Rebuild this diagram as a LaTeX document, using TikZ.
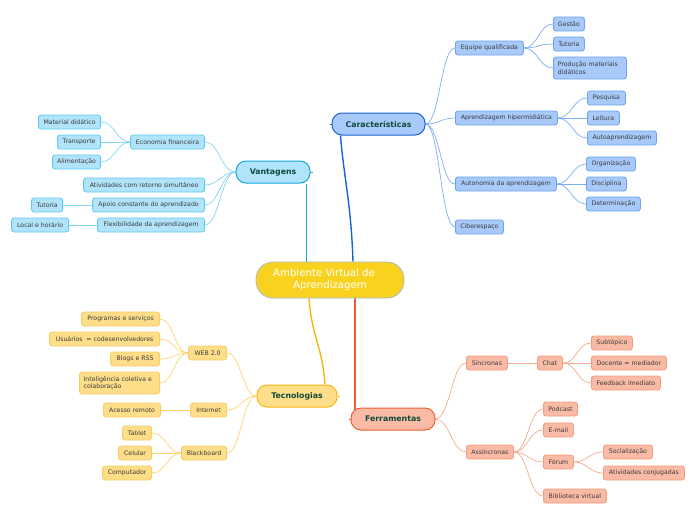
\documentclass[tikz,border=0pt]{standalone}
\usepackage{fontspec}
\setmainfont{DejaVu Sans}
\pgfdeclarelayer{back}
\pgfdeclarelayer{bg}
\pgfsetlayers{back,bg,main}
\definecolor{txt}{HTML}{3A3A3A}
\definecolor{mtxt}{HTML}{0E4A3A}
\definecolor{cbF}{HTML}{A8CAFB}
\definecolor{cbD}{HTML}{6EA4EF}
\definecolor{cbM}{HTML}{1A62D6}
\definecolor{cbL}{HTML}{80AEF2}
\definecolor{vbF}{HTML}{B1E4FB}
\definecolor{vbD}{HTML}{5CCBF2}
\definecolor{vbM}{HTML}{10A6E2}
\definecolor{vbL}{HTML}{86D6F5}
\definecolor{tbF}{HTML}{FFDE8A}
\definecolor{tbD}{HTML}{F8CC66}
\definecolor{tbM}{HTML}{F6B70E}
\definecolor{tbL}{HTML}{FFD46E}
\definecolor{fbF}{HTML}{F9BBA6}
\definecolor{fbD}{HTML}{F59C7E}
\definecolor{fbM}{HTML}{EF5F2F}
\definecolor{fbL}{HTML}{FAAA90}
\definecolor{ctrF}{HTML}{F9D21F}
\definecolor{ctrD}{HTML}{A9B9C6}
\tikzset{
 bx/.style={draw, rounded corners=2.5pt, minimum height=14pt, inner sep=0pt, line width=0.8pt,
   font=\fontsize{6.2}{7.6}\selectfont, text=txt},
 cb/.style={bx, fill=cbF, draw=cbD},
 vb/.style={bx, fill=vbF, draw=vbD},
 tb/.style={bx, fill=tbF, draw=tbD},
 fb/.style={bx, fill=fbF, draw=fbD},
 mainbox/.style={draw, rounded corners=10pt, minimum height=22pt, inner sep=0pt, line width=1pt,
   font=\bfseries\fontsize{7.8}{9}\selectfont, text=mtxt},
 cl/.style={draw=cbL, line width=0.7pt},
 vl/.style={draw=vbL, line width=0.7pt},
 tl/.style={draw=tbL, line width=0.7pt},
 fl/.style={draw=fbL, line width=0.7pt},
}
\newcommand{\rlink}[3]{\draw[#1] (#2.east) .. controls +(14,0) and +(-14,0) .. (#3.west);}
\newcommand{\llink}[3]{\draw[#1] (#2.west) .. controls +(-14,0) and +(14,0) .. (#3.east);}
\begin{document}
\begin{tikzpicture}[x=1pt,y=-1pt]
\begin{pgfonlayer}{back}
\fill[white] (0,0) rectangle (696,520);
\end{pgfonlayer}
\useasboundingbox (0,0) rectangle (696,520);

% central
\node[draw=ctrD, fill=ctrF, rounded corners=17pt, minimum width=148pt, minimum height=36pt, inner sep=0pt,
  line width=0.8pt, text=white, align=center, font=\fontsize{10.2}{12}\selectfont] (ctr) at (330,280)
  {Ambiente Virtual de\hspace*{12pt}\\Aprendizagem};

% main nodes
\node[mainbox, fill=cbF, draw=cbM, minimum width=93pt] (car) at (378.5,124) {Características};
\node[mainbox, fill=vbF, draw=vbM, minimum width=74pt] (van) at (273,172) {Vantagens};
\node[mainbox, fill=tbF, draw=tbM, minimum width=80pt] (tec) at (297,396) {Tecnologias};
\node[mainbox, fill=fbF, draw=fbM, minimum width=84pt] (fer) at (393,419) {Ferramentas};

% Caracteristicas
\node[cb, anchor=west, minimum width=68pt] (eq) at (455,48) {Equipe qualificada};
\node[cb, anchor=west, minimum width=102pt] (ah) at (455,118) {Aprendizagem hipermidiática};
\node[cb, anchor=west, minimum width=101pt] (au) at (455,184) {Autonomia da aprendizagem};
\node[cb, anchor=west, minimum width=48pt] (ci) at (455,227) {Ciberespaço};
\node[cb, anchor=west, minimum width=31pt] (ge) at (553,24) {Gestão};
\node[cb, anchor=west, minimum width=31pt] (tu) at (553,44) {Tutoria};
\node[cb, anchor=west, minimum width=73pt, minimum height=22pt, align=left, text width=64pt] (pr) at (553,68) {Produção materiais didáticos};
\node[cb, anchor=west, minimum width=38pt] (pe) at (587,98) {Pesquisa};
\node[cb, anchor=west, minimum width=32pt] (le) at (587,118) {Leitura};
\node[cb, anchor=west, minimum width=69pt] (aa) at (587,138) {Autoaprendizagem};
\node[cb, anchor=west, minimum width=49pt] (or) at (586,164) {Organização};
\node[cb, anchor=west, minimum width=40pt] (di) at (586,184) {Disciplina};
\node[cb, anchor=west, minimum width=54pt] (de) at (586,204) {Determinação};

% Vantagens
\node[vb, anchor=east, minimum width=74pt] (ec) at (205,142) {Economia financeira};
\node[vb, anchor=east, minimum width=121pt] (at) at (205,185) {Atividades com retorno simultâneo};
\node[vb, anchor=east, minimum width=112pt] (ap) at (205,205) {Apoio constante do aprendizado};
\node[vb, anchor=east, minimum width=107pt] (fx) at (205,225) {Flexibilidade da aprendizagem};
\node[vb, anchor=east, minimum width=62pt] (md) at (101,122) {Material didático};
\node[vb, anchor=east, minimum width=43pt] (tr) at (101,142) {Transporte};
\node[vb, anchor=east, minimum width=48pt] (al) at (101,162) {Alimentação};
\node[vb, anchor=east, minimum width=31pt] (tv) at (63,205) {Tutoria};
\node[vb, anchor=east, minimum width=57pt] (lh) at (69,225) {Local e horário};

% Tecnologias
\node[tb, anchor=east, minimum width=38pt] (wb) at (227,353) {WEB 2.0};
\node[tb, anchor=east, minimum width=36pt] (in) at (227,410) {Internet};
\node[tb, anchor=east, minimum width=45pt] (bb) at (227,453) {Blackboard};
\node[tb, anchor=east, minimum width=78pt] (ps) at (160,319) {Programas e serviços};
\node[tb, anchor=east, minimum width=110pt] (us) at (160,339) {Usuários~ = codesenvolvedores};
\node[tb, anchor=east, minimum width=49pt] (bl) at (160,359) {Blogs e RSS};
\node[tb, anchor=east, minimum width=80pt, minimum height=22pt, align=left, text width=72pt] (ic) at (160,383) {Inteligência coletiva e colaboração};
\node[tb, anchor=east, minimum width=57pt] (ar) at (161,410) {Acesso remoto};
\node[tb, anchor=east, minimum width=29pt] (ta) at (152,433) {Tablet};
\node[tb, anchor=east, minimum width=33pt] (ce) at (152,453) {Celular};
\node[tb, anchor=east, minimum width=49pt] (co) at (152,473) {Computador};

% Ferramentas
\node[fb, anchor=west, minimum width=41pt] (si) at (466,363) {Síncronas};
\node[fb, anchor=west, minimum width=47pt] (as) at (466,452) {Assíncronas};
\node[fb, anchor=west, minimum width=25pt] (ch) at (537,363) {Chat};
\node[fb, anchor=west, minimum width=41pt] (sb) at (591,343) {Subtópico};
\node[fb, anchor=west, minimum width=75pt] (dm) at (591,363) {Docente = mediador};
\node[fb, anchor=west, minimum width=69pt] (fi) at (591,383) {Feedback imediato};
\node[fb, anchor=west, minimum width=34pt] (po) at (543,409) {Podcast};
\node[fb, anchor=west, minimum width=30pt] (em) at (543,430) {E-mail};
\node[fb, anchor=west, minimum width=30pt] (fo) at (543,462) {Fórum};
\node[fb, anchor=west, minimum width=63pt] (bv) at (543,496) {Biblioteca virtual};
\node[fb, anchor=west, minimum width=49pt] (so) at (603,452) {Socialização};
\node[fb, anchor=west, minimum width=81pt] (ac) at (603,473) {Atividades conjugadas};

\begin{pgfonlayer}{bg}
% main connectors
\draw[draw=vbM, line width=1.4pt] ([xshift=-4pt]van.south east) -- ([xshift=-4pt]van.south east |- ctr.north);
\draw[draw=cbM, line width=1.4pt] ([xshift=-38pt]car.south) .. controls +(3,40) and +(-2,-60) .. ([xshift=23pt]ctr.north);
\draw[draw=tbM, line width=1.4pt] ([xshift=-21pt]ctr.south) .. controls +(3,40) and +(-3,-40) .. ([xshift=28pt]tec.north);
\draw[draw=fbM, line width=1.4pt] ([xshift=25pt]ctr.south) -- ([xshift=-38pt]fer.center);
% small stubs on main nodes
\draw[draw=vbM, line width=1pt] (van.east) -- ++(2,0);
\draw[draw=cbM, line width=1pt] (car.west) -- ++(-2,0);
\draw[draw=tbM, line width=1pt] (tec.east) -- ++(2,0);
\draw[draw=fbM, line width=1pt] (fer.west) -- ++(-2,0);

% Caracteristicas links
\rlink{cl}{car}{eq}\rlink{cl}{car}{ah}\rlink{cl}{car}{au}\rlink{cl}{car}{ci}
\rlink{cl}{eq}{ge}\rlink{cl}{eq}{tu}\rlink{cl}{eq}{pr}
\rlink{cl}{ah}{pe}\rlink{cl}{ah}{le}\rlink{cl}{ah}{aa}
\rlink{cl}{au}{or}\rlink{cl}{au}{di}\rlink{cl}{au}{de}
% Vantagens links
\llink{vl}{van}{ec}\llink{vl}{van}{at}\llink{vl}{van}{ap}\llink{vl}{van}{fx}
\llink{vl}{ec}{md}\llink{vl}{ec}{tr}\llink{vl}{ec}{al}
\draw[vl] (ap.west) -- (tv.east);
\draw[vl] (fx.west) -- (lh.east);
% Tecnologias links
\llink{tl}{tec}{wb}\llink{tl}{tec}{in}\llink{tl}{tec}{bb}
\llink{tl}{wb}{ps}\llink{tl}{wb}{us}\llink{tl}{wb}{bl}\llink{tl}{wb}{ic}
\draw[tl] (in.west) -- (ar.east);
\llink{tl}{bb}{ta}\llink{tl}{bb}{ce}\llink{tl}{bb}{co}
% Ferramentas links
\rlink{fl}{fer}{si}\rlink{fl}{fer}{as}
\draw[fl] (si.east) -- (ch.west);
\rlink{fl}{ch}{sb}\rlink{fl}{ch}{dm}\rlink{fl}{ch}{fi}
\rlink{fl}{as}{po}\rlink{fl}{as}{em}\rlink{fl}{as}{fo}\rlink{fl}{as}{bv}
\rlink{fl}{fo}{so}\rlink{fl}{fo}{ac}
\end{pgfonlayer}
\end{tikzpicture}
\end{document}
